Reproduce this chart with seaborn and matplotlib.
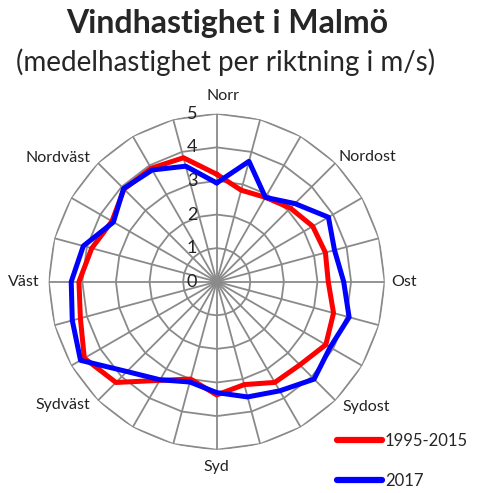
import numpy as np
import pandas as pd
import matplotlib
matplotlib.use('Agg')
import matplotlib.pyplot as plt
import matplotlib.transforms as mtransforms
from matplotlib.lines import Line2D
import seaborn as sns

sns.set_style('white')
plt.rcParams['font.family'] = ['Lato', 'DejaVu Sans']

# direction in degrees (24 sectors), mean wind speed in m/s
directions = [0, 15, 30, 45, 60, 75, 90, 105, 120, 135, 150, 165,
              180, 195, 210, 225, 240, 255, 270, 285, 300, 315, 330, 345]
speed_1995_2015 = [3.2, 2.82, 2.9, 3.1, 3.3, 3.35, 3.32, 3.6, 3.75, 3.5, 3.46, 3.17,
                   3.37, 3.0, 3.39, 4.24, 4.55, 4.2, 4.1, 3.85, 3.6, 3.9, 3.9, 3.82]
speed_2017 = [2.94, 3.71, 2.9, 3.29, 3.84, 3.63, 3.78, 4.08, 3.9, 4.1, 3.75, 3.55,
              3.3, 3.09, 3.37, 3.78, 4.68, 4.45, 4.33, 4.11, 3.55, 3.92, 3.84, 3.56]
series_names = ['1995-2015', '2017']
compass_names = ['Norr', 'Nordost', 'Ost', 'Sydost', 'Syd', 'Sydväst', 'Väst', 'Nordväst']
r_ticks = [0, 1, 2, 3, 4, 5]
colors = ['#ff0000', '#0000ff']

# where each compass label sits (angle in degrees, radius in data units)
label_pos = [(2, 5.52), (50.4, 5.82), (90, 5.58), (129.8, 5.81),
             (180, 5.5), (231.4, 5.87), (270, 5.75), (308, 6.0)]

rows = []
for name, vals in zip(series_names, [speed_1995_2015, speed_2017]):
    for d, v in zip(directions + [360], vals + [vals[0]]):
        rows.append({'theta': np.deg2rad(d), 'speed': v, 'period': name})
df = pd.DataFrame(rows)

fig = plt.figure(figsize=(4.83, 4.93), dpi=100)
ax = fig.add_axes([0.1008, 0.0878, 0.6957, 0.6815], projection='polar')
ax.set_theta_zero_location('N')
ax.set_theta_direction(-1)

# polygon grid, like a spreadsheet radar chart
grid_kw = dict(color='#8a8a8a', lw=1.3, zorder=1)
ring_theta = np.deg2rad(directions + [360])
for r in r_ticks[1:]:
    ax.plot(ring_theta, [r] * len(ring_theta), **grid_kw)
for d in directions:
    ax.plot([np.deg2rad(d)] * 2, [0, r_ticks[-1]], **grid_kw)

sns.lineplot(data=df, x='theta', y='speed', hue='period', palette=colors,
             lw=3.6, ax=ax, legend=False, sort=False, zorder=3)

ax.set_ylim(0, 5)
ax.grid(False)
ax.spines['polar'].set_visible(False)
ax.set_xticks([])
ax.set_yticks([])
ax.set_xlabel('')
ax.set_ylabel('')

# radial tick labels along the north spoke
off = mtransforms.offset_copy(ax.transData, fig=fig, x=-14, y=0, units='points')
for r in r_ticks:
    ax.text(0, r, str(r), transform=off, ha='right', va='center',
            fontsize=13, color='#222222')

for lab, (d, rr) in zip(compass_names, label_pos):
    ax.text(np.deg2rad(d), rr, lab, ha='center', va='center',
            fontsize=11.5, color='#222222')

fig.text(0.47, 0.953, 'Vindhastighet i Malmö', ha='center', va='center',
         fontsize=23, fontweight='bold')
fig.text(0.466, 0.874, '(medelhastighet per riktning i m/s)', ha='center',
         va='center', fontsize=20)

handles = [Line2D([], [], color=c, lw=4.5) for c in colors]
fig.legend(handles, series_names, loc='lower right',
           bbox_to_anchor=(1.0, -0.022), frameon=False, fontsize=12,
           handlelength=2.7, handletextpad=0.2, labelspacing=1.45)

fig.savefig('out.png', dpi=100)
